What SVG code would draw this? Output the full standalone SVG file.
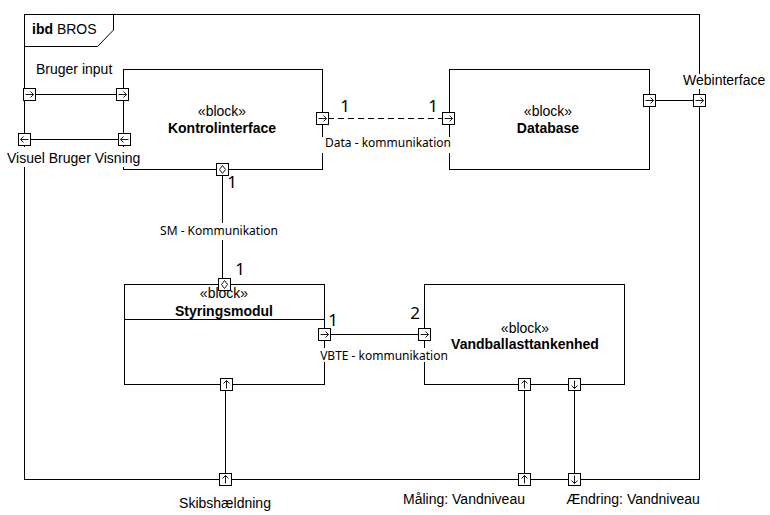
<svg xmlns="http://www.w3.org/2000/svg" xmlns:xlink="http://www.w3.org/1999/xlink" width="770" height="515" viewBox="0 0 770 515">
<style>
.ln{fill:none;stroke:#000;stroke-width:1}
.blk{fill:#fff;stroke:#000;stroke-width:1}
.t{font-family:"Liberation Sans",Arial,sans-serif;font-size:14px;fill:#000}
.b{font-weight:bold}
.c{font-family:"Noto Sans","Open Sans",sans-serif;font-size:12px;fill:#000}
.n{font-family:"Noto Sans","Open Sans",sans-serif;font-size:17px;fill:#000}
.bg{fill:#fff;stroke:none}
.pg{fill:none;stroke:#000;stroke-width:0.9}
</style>
<defs>
<g id="pR"><rect x="-6" y="-6" width="12" height="12" class="blk"/><path d="M-4,0H4M1,-3L4,0L1,3" class="pg"/></g>
<g id="pL"><rect x="-6" y="-6" width="12" height="12" class="blk"/><path d="M4,0H-4M-1,-3L-4,0L-1,3" class="pg"/></g>
<g id="pU"><rect x="-6" y="-6" width="12" height="12" class="blk"/><path d="M0,4V-4M-3,-1L0,-4L3,-1" class="pg"/></g>
<g id="pD"><rect x="-6" y="-6" width="12" height="12" class="blk"/><path d="M0,-4V4M-3,1L0,4L3,1" class="pg"/></g>
<g id="pX"><rect x="-6" y="-6" width="12" height="12" class="blk"/><path d="M0,-4L3,0L0,4L-3,0Z" class="pg"/></g>
</defs>
<g id="frame">
<rect x="24.5" y="14.5" width="675" height="465" class="ln"/>
<path d="M24.5,46.5H97.5L113.5,30V14.5" class="ln"/>
<text x="32" y="34" class="t"><tspan class="b">ibd</tspan> BROS</text>
</g>
<g id="connectors">
<path d="M35,94.5H116" class="ln"/>
<path d="M30,139.5H118" class="ln"/>
<path d="M328,118.5H442" class="ln" stroke-dasharray="6,4"/>
<path d="M655,100.5H693" class="ln"/>
<path d="M222.5,175V278" class="ln"/>
<path d="M330,334.5H418" class="ln"/>
<path d="M225.5,390V473" class="ln"/>
<path d="M524.5,390V473" class="ln"/>
<path d="M574.5,390V473" class="ln"/>
</g>
<g id="kontrolinterface">
<rect x="123.5" y="69.5" width="199" height="100" class="blk"/>
<text x="222" y="116" class="t" text-anchor="middle">«block»</text>
<text x="222" y="133" class="t b" text-anchor="middle">Kontrolinterface</text>
<use xlink:href="#pR" x="122.5" y="94.5"/>
<use xlink:href="#pL" x="124.5" y="139.5"/>
<use xlink:href="#pR" x="322.5" y="118.5"/>
<use xlink:href="#pX" x="222.5" y="169.5"/>
</g>
<g id="database">
<rect x="449.5" y="69.5" width="200" height="100" class="blk"/>
<text x="548" y="116" class="t" text-anchor="middle">«block»</text>
<text x="548" y="133" class="t b" text-anchor="middle">Database</text>
<use xlink:href="#pR" x="448.5" y="118.5"/>
<use xlink:href="#pR" x="649.5" y="100.5"/>
</g>
<g id="styringsmodul">
<rect x="124.5" y="284.5" width="200" height="100" class="blk"/>
<path d="M124.5,319.5H324.5" class="ln"/>
<use xlink:href="#pX" x="224.5" y="284.5"/>
<text x="224" y="298" class="t" text-anchor="middle">«block»</text>
<text x="224" y="316" class="t b" text-anchor="middle">Styringsmodul</text>
<use xlink:href="#pR" x="324.5" y="334.5"/>
<use xlink:href="#pU" x="226.5" y="384.5"/>
</g>
<g id="vandballasttankenhed">
<rect x="424.5" y="284.5" width="200" height="100" class="blk"/>
<text x="525" y="333" class="t" text-anchor="middle">«block»</text>
<text x="525" y="349" class="t b" text-anchor="middle">Vandballasttankenhed</text>
<use xlink:href="#pR" x="424.5" y="334.5"/>
<use xlink:href="#pU" x="524.5" y="384.5"/>
<use xlink:href="#pD" x="574.5" y="384.5"/>
</g>
<g id="frame-ports">
<use xlink:href="#pR" x="29.5" y="94.5"/>
<use xlink:href="#pL" x="24.5" y="139.5"/>
<use xlink:href="#pR" x="699.5" y="100.5"/>
<use xlink:href="#pU" x="225.5" y="479.5"/>
<use xlink:href="#pU" x="524.5" y="479.5"/>
<use xlink:href="#pD" x="574.5" y="479.5"/>
</g>
<g id="labels">
<rect x="6" y="147" width="135" height="20" class="bg"/>
<rect x="682" y="74" width="85" height="15" class="bg"/>
<rect x="322" y="137" width="132" height="16" class="bg"/>
<rect x="157" y="223" width="124" height="17" class="bg"/>
<rect x="317" y="348" width="133" height="14" class="bg"/>
<text x="36" y="74" class="t">Bruger input</text>
<text x="7" y="163" class="t">Visuel Bruger Visning</text>
<text x="683" y="85" class="t">Webinterface</text>
<text x="225" y="508" class="t" text-anchor="middle">Skibshældning</text>
<text x="464" y="504" class="t" text-anchor="middle">Måling: Vandniveau</text>
<text x="633" y="504" class="t" text-anchor="middle">Ændring: Vandniveau</text>
<text x="388" y="147" class="c" text-anchor="middle">Data - kommunikation</text>
<text x="219" y="235" class="c" text-anchor="middle">SM - Kommunikation</text>
<text x="384" y="360" class="c" text-anchor="middle">VBTE - kommunikation</text>
<text x="345" y="112" class="n" text-anchor="middle">1</text>
<text x="433" y="112" class="n" text-anchor="middle">1</text>
<text x="232" y="188" class="n" text-anchor="middle">1</text>
<text x="240" y="275" class="n" text-anchor="middle">1</text>
<text x="333" y="326" class="n" text-anchor="middle">1</text>
<text x="415" y="319" class="n" text-anchor="middle">2</text>
</g>
</svg>
